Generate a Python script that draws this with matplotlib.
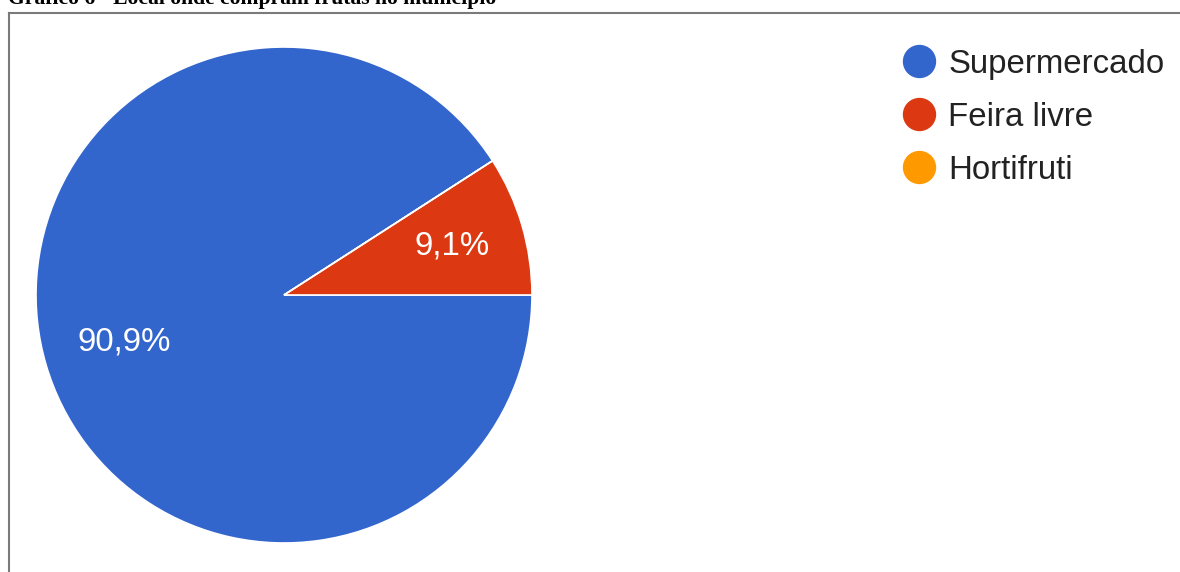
#!/usr/bin/env python3
# -*- coding: utf-8 -*-
"""
Gráfico 6 - Local onde compram frutas no município (pizza)
"""

import matplotlib
matplotlib.use("Agg")
import matplotlib.pyplot as plt
from matplotlib.lines import Line2D
import numpy as np

# ---- dados ----
categorias = ["Supermercado", "Feira livre", "Hortifruti"]
percentuais = [90.9, 9.1, 0.0]
cores = ["#3366cc", "#dc3912", "#ff9900"]
titulo = "Gráfico 6 - Local onde compram frutas no município"

W, H = 1180, 572
fig = plt.figure(figsize=(W / 100, H / 100), dpi=100)
fig.patch.set_facecolor("white")

# ---- título (cortado no topo, como no original) ----
fig.text(8 / W, 1 - 4 / H, titulo, fontfamily="Liberation Serif",
         fontweight="bold", fontsize=15.6, va="baseline", ha="left")

# ---- moldura cinza ----
fig.add_artist(Line2D([9 / W, 1], [1 - 13 / H, 1 - 13 / H],
                      transform=fig.transFigure, color="#7a7a7a", lw=1.5))
fig.add_artist(Line2D([9 / W, 9 / W], [0, 1 - 13 / H],
                      transform=fig.transFigure, color="#7a7a7a", lw=1.5))

# ---- pizza ----
cx, cy, r = 284, 295, 248
ax = fig.add_axes([(cx - r) / W, (H - cy - r) / H, 2 * r / W, 2 * r / H])


def fmt(p):
    if p < 0.05:
        return ""
    return f"{p:.1f}%".replace(".", ",")


total = sum(percentuais)
inicio = 360 * percentuais[1] / total
wedges, textos, autotextos = ax.pie(
    percentuais, colors=cores, startangle=inicio, counterclock=True,
    autopct=fmt, pctdistance=0.69, radius=1,
    wedgeprops=dict(edgecolor="white", linewidth=1.2),
    textprops=dict(color="white", fontsize=23.8, fontfamily="Liberation Sans"))

# distância dos rótulos ao centro, um pouco diferente por fatia
dist = [0.67, 0.705, 0.69]
for w, t, d in zip(wedges, autotextos, dist):
    ang = np.deg2rad((w.theta1 + w.theta2) / 2)
    t.set_position((d * np.cos(ang), d * np.sin(ang)))

ax.set_xlim(-1, 1)
ax.set_ylim(-1, 1)
ax.axis("off")

# ---- legenda ----
handles = [Line2D([0], [0], marker="o", linestyle="none", markersize=23,
                  markerfacecolor=c, markeredgecolor=c) for c in cores]
fig.legend(handles, categorias, loc="upper left",
           bbox_to_anchor=(902 / W, 1 - 49 / H), frameon=False,
           borderpad=0, borderaxespad=0, handlelength=1.0,
           handletextpad=0.4, labelspacing=0.66,
           prop=dict(family="Liberation Sans", size=23.8),
           labelcolor="#222222")

fig.savefig("out.png", dpi=100)
print("[Saved] out.png")
